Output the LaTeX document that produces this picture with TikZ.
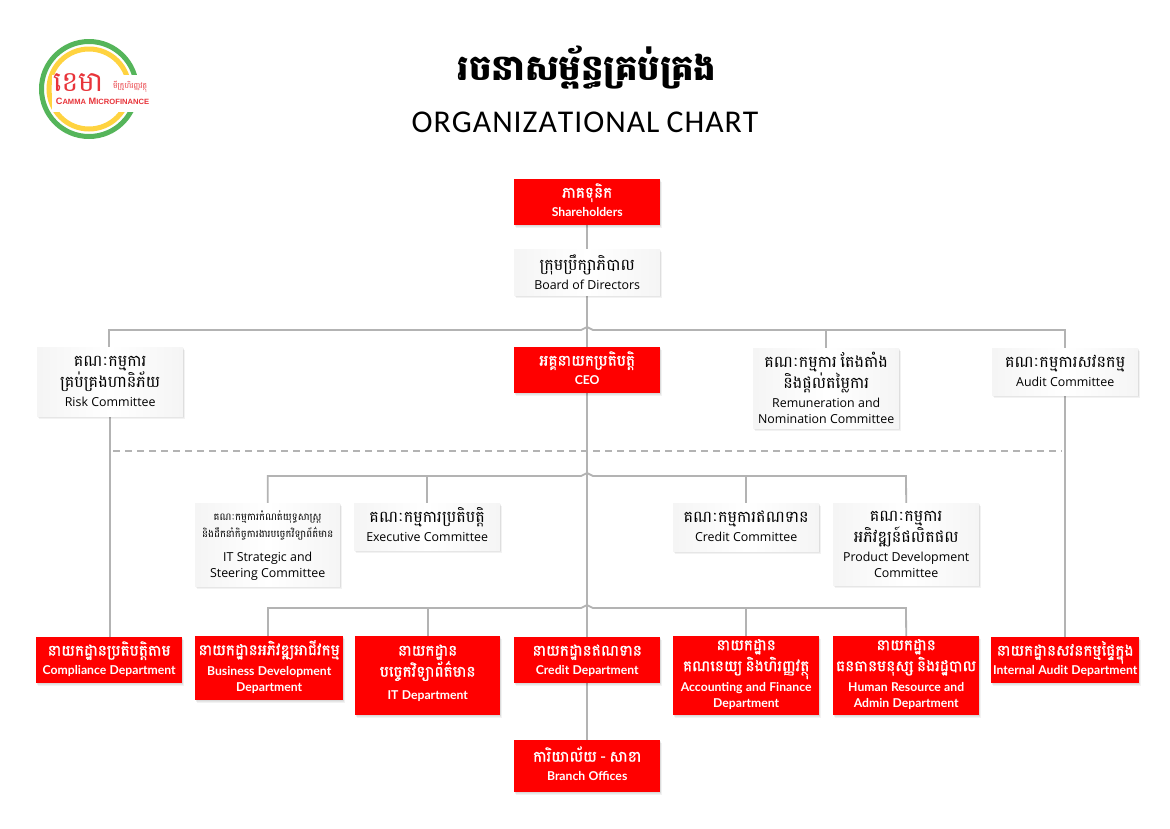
\documentclass[tikz,border=0pt]{standalone}
\usepackage{fontspec}
\setmainfont{Open Sans}
\newfontfamily\km[Script=Khmer]{Battambang}
\newfontfamily\kmb[Script=Khmer,FakeBold=1.1]{Battambang}
\newfontfamily\enb{Lato}
\newfontfamily\ttl{Carlito}
\newfontfamily\lgo{Liberation Sans}
\usetikzlibrary{shadows,backgrounds}
\definecolor{cred}{HTML}{FF0000}
\definecolor{cline}{HTML}{B3B3B3}
\definecolor{clogo}{HTML}{E8343A}
\definecolor{cgreen}{HTML}{55B55A}
\definecolor{cyellow}{HTML}{FFD340}
\newcommand{\kt}[1]{\rule[-7pt]{0pt}{21pt}\smash{\km\fontsize{16}{20}\selectfont #1}}
\newcommand{\ks}[1]{\rule[-5pt]{0pt}{17pt}\smash{\km\fontsize{10}{14}\selectfont #1}}
\newcommand{\kb}[1]{\rule[-7pt]{0pt}{21pt}\smash{\kmb\fontsize{15.3}{20}\selectfont #1}}
\newcommand{\et}[1]{\rule[-4pt]{0pt}{16pt}\smash{\fontsize{12.4}{15}\selectfont #1}}
\newcommand{\eb}[1]{\rule[-4pt]{0pt}{16pt}\smash{\enb\bfseries\fontsize{12.2}{15}\selectfont #1}}
\tikzset{
  softshadow/.style={
    general shadow={fill=black,opacity=.05,shadow xshift=.5pt,shadow yshift=-1pt},
    general shadow={fill=black,opacity=.05,shadow xshift=1.2pt,shadow yshift=-2pt},
    general shadow={fill=black,opacity=.05,shadow xshift=2pt,shadow yshift=-3pt}},
  bx/.style={anchor=north west,inner sep=0pt,align=center,softshadow,
    execute at begin node={\baselineskip=0pt\lineskiplimit=0pt\lineskip=0pt}},
  redbox/.style={bx,fill=cred,text=white},
  greybox/.style={bx,left color=black!4,right color=black!4,middle color=white,text=black},
  wire/.style={draw=cline,line width=1.8pt},
  dashwire/.style={draw=cline,line width=1.6pt,dash pattern=on 7pt off 5pt},
}
\newcommand{\bxn}[7]{% style,name,x1,y1,x2,y2,text
  \pgfmathsetmacro{\bw}{#5-#3}\pgfmathsetmacro{\bh}{#6-#4}
  \node[#1,minimum width=\bw pt,minimum height=\bh pt,text width=\bw pt] (#2) at (#3,#4) {#7};}
\begin{document}
\begin{tikzpicture}[x=1pt,y=-1pt]
\useasboundingbox (0,0) rectangle (1170,828);
% logo
\draw[line width=5pt,draw=cgreen] (89,89) circle (47.5);
\draw[line width=5pt,draw=cyellow] (89,89) circle (40);
\node[fill=white,minimum width=100pt,minimum height=37pt,inner sep=0pt,anchor=north west] (logobg) at (52,75) {};
\node[anchor=west,inner sep=0pt,text=clogo] (logok) at (53,82.5) {{\km\fontsize{28}{28}\selectfont ខេមា}};
\node[anchor=west,inner sep=0pt,text=clogo] (logom) at (113,87) {{\km\fontsize{7.6}{8}\selectfont មីក្រូហិរញ្ញវត្ថុ}};
\node[anchor=center,inner sep=0pt,text=clogo] (logoe) at (102.5,101) {{\lgo\bfseries\fontsize{9.2}{9}\selectfont C{\fontsize{7.6}{8}\selectfont AMMA} M{\fontsize{7.6}{8}\selectfont ICROFINANCE}}};
% title
\node[inner sep=0pt] (t1) at (587,68) {{\km\bfseries\fontsize{35.4}{40}\selectfont រចនាសម្ព័ន្ធគ្រប់គ្រង}};
\node[inner sep=0pt] (t2) at (585,122) {{\ttl\fontsize{31.7}{36}\selectfont O\kern1pt R\kern1pt G\kern1pt A\kern1pt N\kern1pt I\kern1pt Z\kern1pt A\kern1pt T\kern1pt I\kern1pt O\kern1pt N\kern1pt A\kern1pt L C\kern1pt H\kern1pt A\kern1pt R\kern1pt T}};
% boxes
\bxn{redbox}{sh}{514}{179}{660}{225}{\kb{ភាគទុនិក}\\\eb{Shareholders}}
\bxn{greybox}{bd}{514}{249}{660}{295}{\rule{0pt}{20pt}\kt{ក្រុមប្រឹក្សាភិបាល}\\\et{Board of Directors}}
\bxn{redbox}{ceo}{514}{347}{660}{393}{\kb{អគ្គនាយកប្រតិបត្តិ}\\\eb{CEO}}
\bxn{greybox}{risk}{37}{347}{183}{416}{\kt{គណៈកម្មការ}\\\kt{គ្រប់គ្រងហានិភ័យ}\\\et{Risk Committee}}
\bxn{greybox}{rem}{753}{348}{899}{428}{\rule{0pt}{18pt}\kt{គណៈកម្មការ តែងតាំង}\\\kt{និងផ្តល់តម្លៃការ}\\\et{Remuneration and}\\\et{Nomination Committee}}
\bxn{greybox}{aud}{992}{348}{1138}{395}{\kt{គណៈកម្មការសវនកម្ម}\\\et{Audit Committee}}
\bxn{greybox}{itc}{195}{503}{340}{586}{\ks{គណៈកម្មការកំណត់យុទ្ធសាស្ត្រ}\\\ks{និងដឹកនាំកិច្ចការងារបច្ចេកវិទ្យាព័ត៌មាន}\\[7pt]\et{IT Strategic and}\\\et{Steering Committee}}
\bxn{greybox}{exc}{354}{503}{500}{550}{\kt{គណៈកម្មការប្រតិបត្តិ}\\\et{Executive Committee}}
\bxn{greybox}{crc}{673}{503}{819}{551}{\kt{គណៈកម្មការឥណទាន}\\\et{Credit Committee}}
\bxn{greybox}{prc}{833}{503}{979}{585}{\kt{គណៈកម្មការ}\\\kt{អភិវឌ្ឍន៍ផលិតផល}\\\et{Product Development}\\\et{Committee}}
\bxn{redbox}{cmp}{36}{637}{182}{683}{\kb{នាយកដ្ឋានប្រតិបត្តិតាម}\\\eb{Compliance Department}}
\bxn{redbox}{bus}{195}{636}{343}{700}{\kb{នាយកដ្ឋានអភិវឌ្ឍអាជីវកម្ម}\\[1pt]\eb{Business Development}\\\eb{Department}}
\bxn{redbox}{itd}{355}{636}{500}{715}{\kb{នាយកដ្ឋាន}\\\kb{បច្ចេកវិទ្យាព័ត៌មាន}\\[4pt]\eb{IT Department}\rule[-10pt]{0pt}{0pt}}
\bxn{redbox}{crd}{514}{637}{660}{683}{\kb{នាយកដ្ឋានឥណទាន}\\\eb{Credit Department}}
\bxn{redbox}{acc}{673}{636}{819}{715}{\kb{នាយកដ្ឋាន}\\\kb{គណនេយ្យ និងហិរញ្ញវត្ថុ}\\[1pt]\eb{Accounting and Finance}\\\eb{Department}\rule[-8pt]{0pt}{0pt}}
\bxn{redbox}{hrd}{833}{636}{979}{715}{\kb{នាយកដ្ឋាន}\\\kb{ធនធានមនុស្ស និងរដ្ឋបាល}\\[1pt]\eb{Human Resource and}\\\eb{Admin Department}\rule[-8pt]{0pt}{0pt}}
\bxn{redbox}{iad}{991}{637}{1139}{683}{\kb{នាយកដ្ឋានសវនកម្មផ្ទៃក្នុង}\\\eb{Internal Audit Department}}
\bxn{redbox}{bra}{514}{740}{660}{792}{\kb{ការិយាល័យ - សាខា}\\\eb{Branch Offices}}
% rail coordinates
\coordinate (r1l) at (109,330); \coordinate (r1r) at (1065,330);
\coordinate (r2l) at (267,476); \coordinate (r2r) at (906,476);
\coordinate (r3l) at (268,608); \coordinate (r3r) at (906,608);
\coordinate (dl) at (113,451); \coordinate (dr) at (1062,451);
\begin{scope}[on background layer]
\draw[wire] (sh.south) -- (bd.north);
\draw[wire] (bd.south) -- (ceo.north);
\draw[wire] (ceo.south) -- (crd.north);
\draw[wire] (crd.south) -- (bra.north);
\draw[wire] (risk.north -| r1l) -- (r1l) -- (581,330) .. controls (584,330) and (584,327) .. (587,327) .. controls (590,327) and (590,330) .. (593,330) -- (r1r) -- (aud.north -| r1r);
\draw[wire] (rem.north) -- (rem.north |- r1l);
\draw[wire] (risk.south) -- (cmp.north -| risk.south);
\draw[wire] (aud.south -| r1r) -- (iad.north -| r1r);
\draw[dashwire] (dl) -- (dr);
\draw[wire] (itc.north) -- (itc.north |- r2l) -- (581,476) .. controls (584,476) and (584,473) .. (587,473) .. controls (590,473) and (590,476) .. (593,476) -- (r2r) -- (prc.north);
\draw[wire] (exc.north) -- (exc.north |- r2l);
\draw[wire] (crc.north) -- (crc.north |- r2l);
\draw[wire] (bus.north -| r3l) -- (r3l) -- (581,608) .. controls (584,608) and (584,605) .. (587,605) .. controls (590,605) and (590,608) .. (593,608) -- (r3r) -- (hrd.north);
\draw[wire] (itd.north) -- (itd.north |- r3l);
\draw[wire] (acc.north) -- (acc.north |- r3l);
\end{scope}
\end{tikzpicture}
\end{document}
